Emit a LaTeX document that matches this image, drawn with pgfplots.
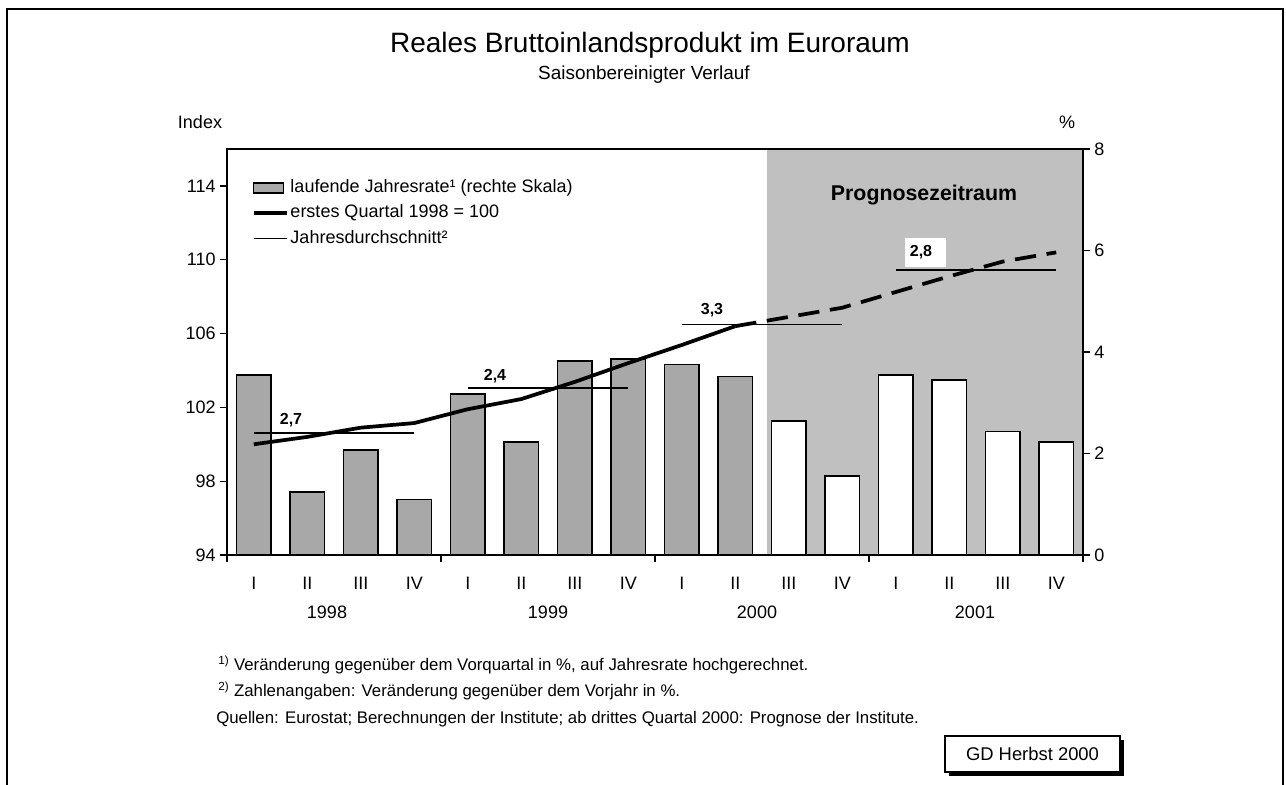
\documentclass[border=0pt]{standalone}
\usepackage{fontspec}
\setmainfont{Liberation Sans}
\usepackage{pgfplots}
\usepackage{pgfplotstable}
\pgfplotsset{compat=1.18}
\definecolor{progbg}{RGB}{192,192,192}
\definecolor{barfill}{RGB}{168,168,168}
\pgfplotsset{
  arealeg/.style={legend image code/.code={\draw[##1] (0pt,-3.75pt) rectangle (22.5pt,3.75pt);}},
  lineleg/.style={legend image code/.code={\draw[##1] (0pt,0pt) -- (25pt,0pt);}},
}

\pgfplotstableread{
x rate
0 3.55
1 1.24
2 2.07
3 1.10
4 3.17
5 2.23
6 3.82
7 3.86
8 3.76
9 3.52
}\histbars
\pgfplotstableread{
x rate
10 2.64
11 1.56
12 3.55
13 3.45
14 2.44
15 2.23
}\progbars
\pgfplotstableread{
x idx
0 100.0
1 100.4
2 100.9
3 101.15
4 101.9
5 102.45
6 103.38
7 104.4
8 105.38
9 106.4
}\histline
\pgfplotstableread{
x idx
9 106.4
10 106.9
11 107.4
12 108.25
13 109.1
14 109.9
15 110.4
}\progline

\begin{document}
\begin{tikzpicture}
\pgfplotsset{
  common/.style={
    at={(170.25pt,-416.25pt)}, anchor=south west,
    width=642pt, height=304.5pt, scale only axis,
    xmin=-0.5, xmax=15.5,
    tick align=outside, major tick length=5pt,
    axis line style={line width=1.4pt},
    tick style={black, line width=0.9pt},
    ticklabel style={font=\fontsize{13.5}{16}\selectfont},
    /pgf/number format/assume math mode=true,
    clip=false,
  }
}
% right scale axis: shading and bars
\begin{axis}[common,
  ymin=0, ymax=8, ytick={0,2,4,6,8},
  ytick pos=right, yticklabel pos=right,
  xtick={-0.5,3.5,7.5,11.5,15.5}, xticklabels={,,,,}, xtick pos=bottom,
  extra x ticks={0,1,...,15},
  extra x tick labels={I,II,III,IV,I,II,III,IV,I,II,III,IV,I,II,III,IV},
  extra x tick style={major tick length=0pt, tick label style={yshift=-13pt}},
]
\fill[progbg] (axis cs:9.59,0) rectangle (axis cs:15.5,8);
\addplot[ybar, bar width=0.65, bar shift=0pt, draw=black, line width=1pt, fill=barfill]
  table[x=x, y=rate]{\histbars};
\addplot[ybar, bar width=0.65, bar shift=0pt, draw=black, line width=1pt, fill=white]
  table[x=x, y=rate]{\progbars};
\end{axis}
% left scale axis: index line and averages
\begin{axis}[common,
  ymin=94, ymax=116, ytick={94,98,...,114},
  ytick pos=left, yticklabel pos=left,
  xtick=\empty,
  legend cell align=left,
  legend style={at={(0.029,0.926)}, anchor=north west, draw=none, fill=none,
    inner sep=0pt, row sep=6pt,
    font=\fontsize{13.5}{16}\selectfont,
    nodes={inner sep=0pt, text height=10pt, text depth=3pt},
    /tikz/every odd column/.style={column sep=1pt}},
]
\addlegendimage{draw=black, line width=0.8pt, fill=barfill, arealeg}
\addlegendentry{laufende Jahresrate¹ (rechte Skala)}
\addplot[black, line width=2.8pt, lineleg]
  table[x=x, y=idx]{\histline};
\addlegendentry{erstes Quartal 1998 = 100}
\addplot[black, line width=1pt, lineleg]
  coordinates {(0,100.61) (3,100.61)};
\addlegendentry{Jahresdurchschnitt²}
\addplot[black, line width=2.8pt, dash pattern=on 16pt off 8pt, forget plot]
  table[x=x, y=idx]{\progline};
\addplot[black, line width=1pt, forget plot] coordinates {(4,103.05) (7,103.05)};
\addplot[black, line width=1pt, forget plot] coordinates {(8,106.5) (11,106.5)};
\addplot[black, line width=1pt, forget plot] coordinates {(12,109.45) (15,109.45)};
\end{axis}

\begin{scope}[x=0.75pt, y=-0.75pt]
\path[use as bounding box] (0,0) rectangle (1286,785);
\draw[line width=1.6pt] (7,786) -- (7,9) -- (1283,9) -- (1283,786);
\node at (650,45) {\fontsize{21}{24}\selectfont Reales Bruttoinlandsprodukt im Euroraum};
\node at (644,75) {\fontsize{14.2}{16}\selectfont Saisonbereinigter Verlauf};
\node at (200,122) {\fontsize{13.5}{16}\selectfont Index};
\node at (1067,122) {\fontsize{13.5}{16}\selectfont \%};
\foreach \yr/\xx in {1998/327,1999/548,2000/757,2001/975}
  \node at (\xx,612) {\fontsize{13.5}{16}\selectfont \yr};
\node at (924,195) {\fontsize{16}{18}\selectfont\bfseries Prognosezeitraum};
\node at (291,420) {\fontsize{12}{14}\selectfont\bfseries 2,7};
\node at (495,376) {\fontsize{12}{14}\selectfont\bfseries 2,4};
\node at (712,310) {\fontsize{12}{14}\selectfont\bfseries 3,3};
\fill[white] (905,238) rectangle (946,267);
\node at (921,252) {\fontsize{12}{14}\selectfont\bfseries 2,8};
\node[anchor=west, inner sep=0pt] at (218,665) {\fontsize{12.6}{15}\selectfont \textsuperscript{1)} Veränderung gegenüber dem Vorquartal in \%, auf Jahresrate hochgerechnet.};
\node[anchor=west, inner sep=0pt] at (218,691) {\fontsize{12.6}{15}\selectfont \textsuperscript{2)} Zahlenangaben: Veränderung gegenüber dem Vorjahr in \%.};
\node[anchor=west, inner sep=0pt] at (216,719) {\fontsize{12.6}{15}\selectfont Quellen: Eurostat; Berechnungen der Institute; ab drittes Quartal 2000: Prognose der Institute.};
\fill[black] (949,740) rectangle (1124,776);
\draw[fill=white, line width=0.8pt] (945,736) rectangle (1120,772);
\node at (1032.5,754) {\fontsize{13.8}{16}\selectfont GD Herbst 2000};
\end{scope}
\end{tikzpicture}
\end{document}
